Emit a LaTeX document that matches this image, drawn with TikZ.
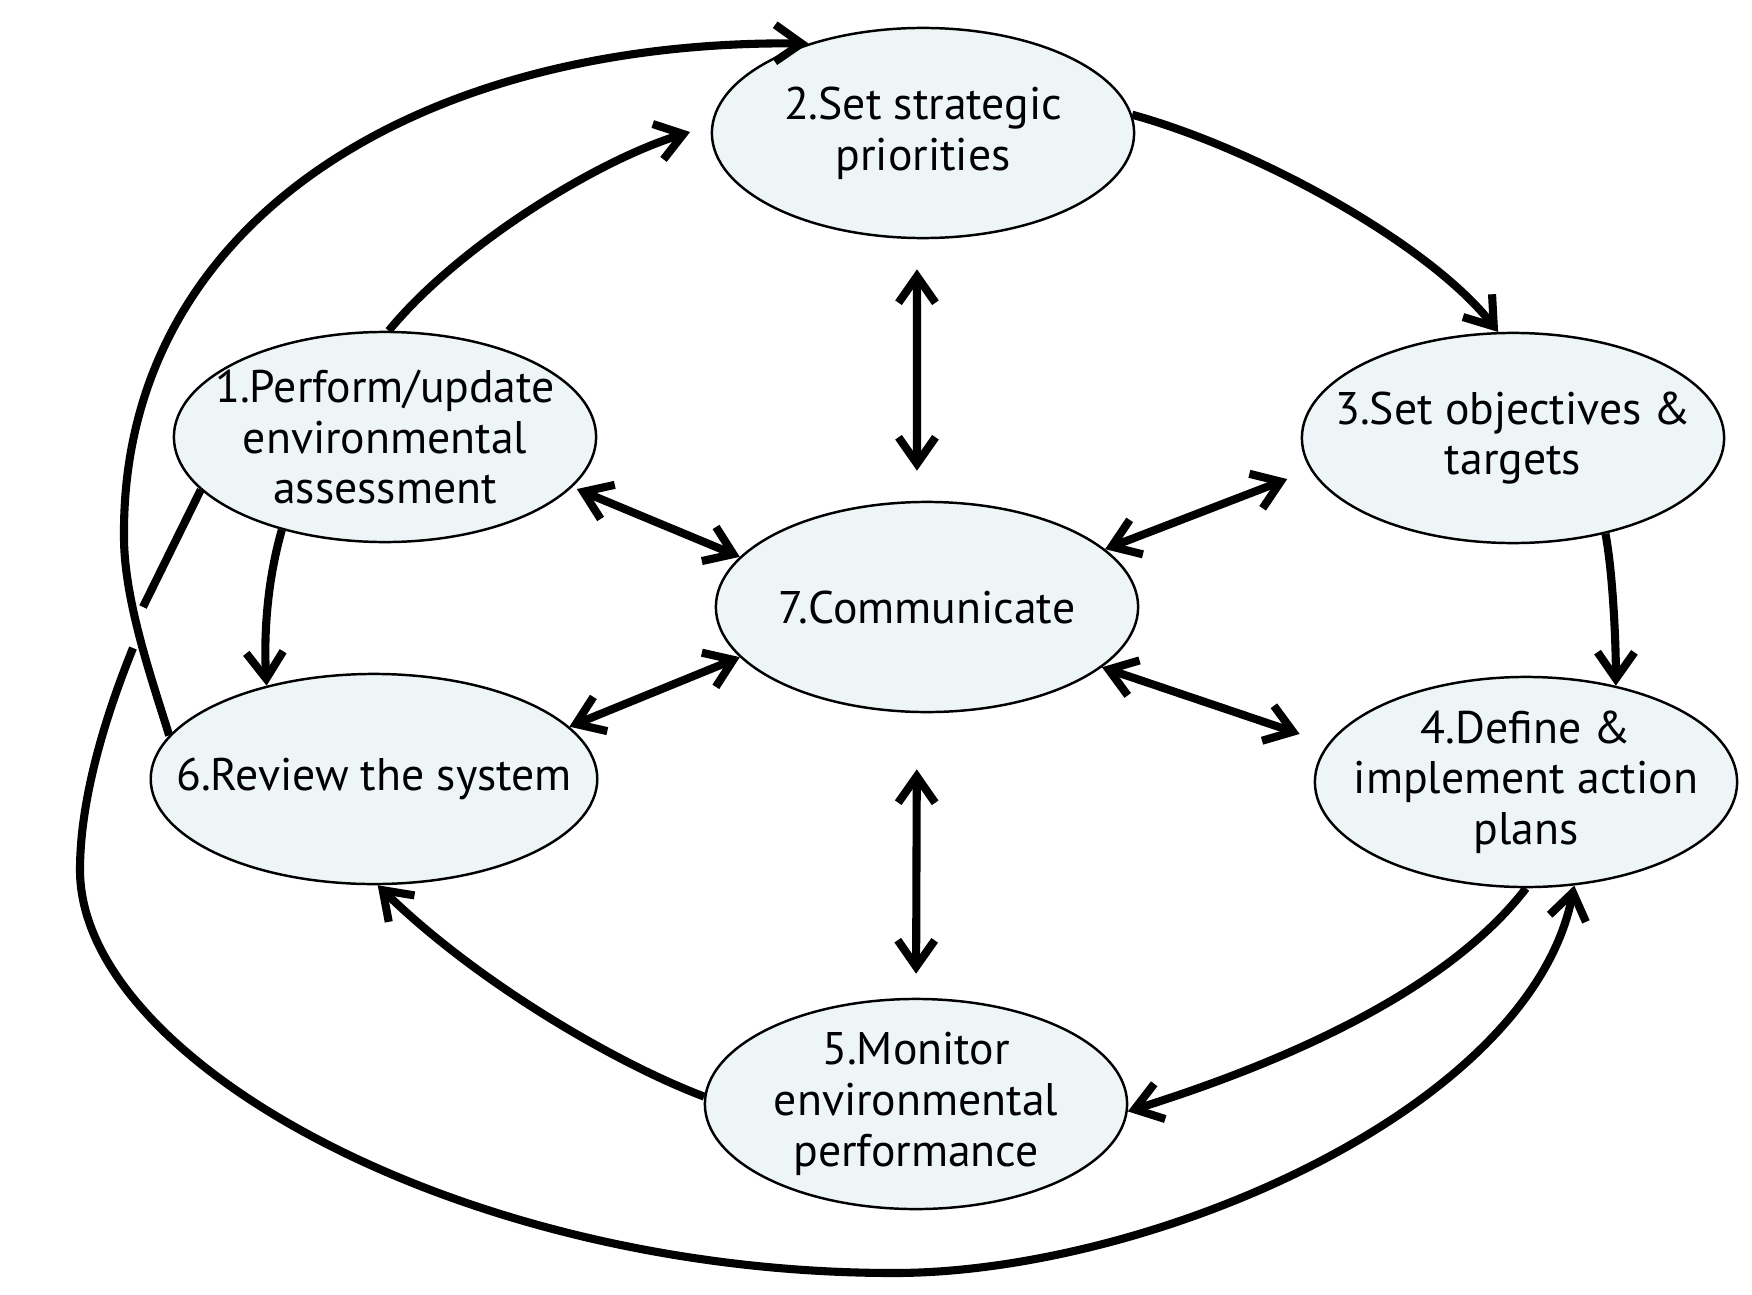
\documentclass[tikz,border=0pt]{standalone}
\usepackage{fontspec}
\setmainfont{PT Sans}
\usetikzlibrary{shapes.geometric,arrows.meta,positioning}
\definecolor{stagefill}{RGB}{237,245,247}

\begin{document}
\begin{tikzpicture}[x=0.01cm,y=-0.01cm,
    stage/.style={ellipse,draw,line width=0.7pt,fill=stagefill,
		minimum width=4.22cm,minimum height=2.1cm,
		inner xsep=-0.4cm,inner ysep=-0.1cm,
		align=center,font=\fontsize{13}{14.4}\selectfont},
    flow/.style={line width=2.3pt,draw=black},
    >={Straight Barb[length=7.5pt,width=10.5pt]}
]
    \useasboundingbox (0,0) rectangle (1752,1294);

    \node (s2) [stage] at (923,133) {2.Set strategic\\priorities};
    \node (s1) [stage] at (385,437) {1.Perform/update\\environmental\\assessment};
    \node (s3) [stage] at (1513,438) {3.Set objectives \&\\targets};
    \node (s7) [stage] at (927,607) {7.Communicate};
    \node (s6) [stage] at (374,779) {6.Review the system};
    \node (s4) [stage] at (1526,782) {4.Define \&\\implement action\\plans};
    \node (s5) [stage] at (916,1104) {5.Monitor\\environmental\\performance};

    % the cycle
    \draw[flow,->,shorten >=0.22cm] (s1.88) .. controls (459,245) and (598,160) .. (s2.178);
    \draw[flow,->] (s2.5) .. controls (1260,150) and (1430,245) .. (s3.98);
    \draw[flow,->] (s3.314) .. controls (1613,573) and (1616,646) .. (s4.47);
    \draw[flow,->] (s4.270) .. controls (1440,1000) and (1260,1070) .. (s5.-2);
    \draw[flow,->] (s5.178) .. controls (620,1065) and (480,985) .. (s6.272);
    \draw[flow,->] (s1.222) .. controls (266,585) and (264,640) .. (s6.139);

    % long loops
    \draw[flow,->] (s6.168) .. controls (152,680) and (124,600) .. (124,537)
        .. controls (121,220) and (420,40) .. (s2.142);
    \coordinate (gapA) at (143,607);
    \coordinate (gapB) at (133,648);
    \draw[flow] (s1.196) -- (gapA);
    \draw[flow,->] (gapB) .. controls (112,700) and (80,790) .. (80,870)
        .. controls (80,1060) and (460,1273) .. (894,1273)
        .. controls (1150,1273) and (1530,1110) .. (s4.295);

    % communication
    \draw[flow,<->,shorten <=0.3cm,shorten >=0.3cm]
        ([xshift=-0.06cm]s2.south) -- ([xshift=-0.1cm]s7.north);
    \draw[flow,<->,shorten <=0.56cm,shorten >=0.24cm]
        ([xshift=-0.1cm]s7.south) -- (s5.north);
    \draw[flow,<->,shorten <=0.05cm] (s1.-15) -- (s7.165);
    \draw[flow,<->,shorten >=0.25cm] (s7.18) -- (s3.189);
    \draw[flow,<->] (s6.15) -- (s7.195);
    \draw[flow,<->,shorten >=0.3cm] (s7.341) -- (s4.169);
\end{tikzpicture}
\end{document}
